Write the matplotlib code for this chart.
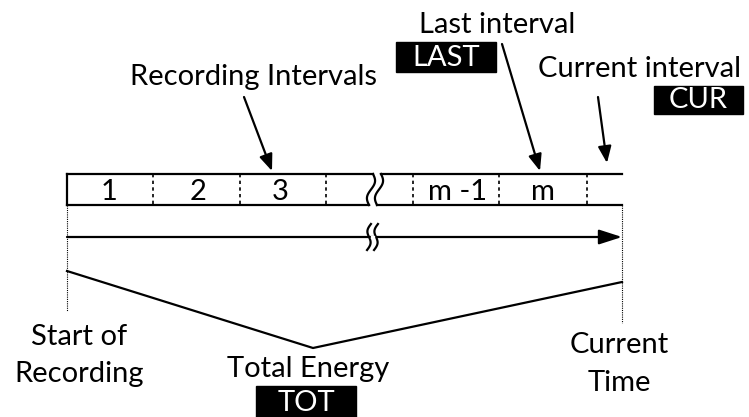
import numpy as np
import matplotlib.pyplot as plt

# labels of the diagram
interval_labels = ['1', '2', '3', '', 'm -1', 'm', '']
callouts = ['Recording Intervals', 'Last interval', 'Current interval']
tags = ['LAST', 'CUR', 'TOT']
bottom_labels = [['Start of', 'Recording'], ['Total Energy'], ['Current', 'Time']]

plt.rcParams['font.family'] = ['Lato', 'DejaVu Sans']
FS = 21

fig = plt.figure(figsize=(7.49, 4.17), dpi=100)
ax = fig.add_axes([0, 0, 1, 1])
ax.set_xlim(0, 749)
ax.set_ylim(417, 0)
ax.axis('off')

lw = 1.6
x0, x1 = 67, 622
top, bot = 174, 205
brk_l, brk_r = 371, 379

# bar outlines (split around the break)
ax.plot([x0, brk_l + 2], [top, top], color='k', lw=lw)
ax.plot([x0, brk_l - 2], [bot, bot], color='k', lw=lw)
ax.plot([brk_r + 2, x1], [top, top], color='k', lw=lw)
ax.plot([brk_r - 2, x1], [bot, bot], color='k', lw=lw)
ax.plot([x0, x0], [top, bot], color='k', lw=lw)

# wavy break edges
t = np.linspace(0, 1, 50)
for bx in (brk_l, brk_r):
    ys = top + t * (bot - top)
    xs = bx + 2 - 4 * t + 3 * np.sin(2 * np.pi * t)
    ax.plot(xs, ys, color='k', lw=lw)

# dashed dividers
for dx in (153, 240, 326, 413, 499, 587):
    ax.plot([dx, dx], [top, bot], color='k', lw=1.2, ls=(0, (2, 2)))

# interval numbers
centers = [109, 198, 280, 0, 458, 543, 0]
for c, lab in zip(centers, interval_labels):
    if lab:
        ax.text(c, 200, lab, ha='center', va='baseline', fontsize=FS)

# time arrow
ax_y = 237
ax.annotate('', xy=(x1, ax_y), xytext=(x0, ax_y),
            arrowprops=dict(arrowstyle='-|>,head_length=1.4,head_width=0.45',
                            color='k', lw=lw, shrinkA=0, shrinkB=0))
# break marks on the arrow
ty = np.linspace(-13, 13, 50)
for off in (-3, 4):
    xs = 372 + off - ty * 0.15 + 2.5 * np.sin(np.pi * ty / 13)
    ax.plot(xs, ax_y + ty, color='k', lw=lw)
ax.fill_between([370.5, 373.5], ax_y - 0.9, ax_y + 0.9, color='white', zorder=3)

# dotted verticals
ax.plot([x0, x0], [bot, 311], color='k', lw=0.8, ls=(0, (1, 1)))
ax.plot([x1, x1], [bot, 323], color='k', lw=0.8, ls=(0, (1, 1)))

# total energy V
ax.plot([x0, 313, x1], [271, 348, 282], color='k', lw=lw)

# callouts with arrows
def arrow(p0, p1):
    ax.annotate('', xy=p1, xytext=p0,
                arrowprops=dict(arrowstyle='-|>,head_length=1.0,head_width=0.4',
                                color='k', lw=lw, shrinkA=0, shrinkB=0))

ax.text(254, 85, callouts[0], ha='center', va='baseline', fontsize=FS)
arrow((244, 97), (272, 171))
ax.text(497, 33, callouts[1], ha='center', va='baseline', fontsize=FS)
arrow((502, 44), (540, 171))
ax.text(640, 77, callouts[2], ha='center', va='baseline', fontsize=FS)
arrow((598, 97), (607, 163))

# black tag boxes
def tag(xa, xb, ya, yb, s):
    ax.add_patch(plt.Rectangle((xa, ya), xb - xa, yb - ya, color='k'))
    ax.text((xa + xb) / 2, yb - 6, s, ha='center', va='baseline',
            fontsize=FS, color='white')

tag(396, 496, 42, 72, tags[0])
tag(654, 743, 86, 114, tags[1])
tag(256, 356, 386, 417, tags[2])

# bottom labels
ax.text(79, 345, bottom_labels[0][0], ha='center', va='baseline', fontsize=FS)
ax.text(79, 382, bottom_labels[0][1], ha='center', va='baseline', fontsize=FS)
ax.text(308, 377, bottom_labels[1][0], ha='center', va='baseline', fontsize=FS)
ax.text(619, 353, bottom_labels[2][0], ha='center', va='baseline', fontsize=FS)
ax.text(619, 391, bottom_labels[2][1], ha='center', va='baseline', fontsize=FS)

fig.savefig('out.png', dpi=100)
